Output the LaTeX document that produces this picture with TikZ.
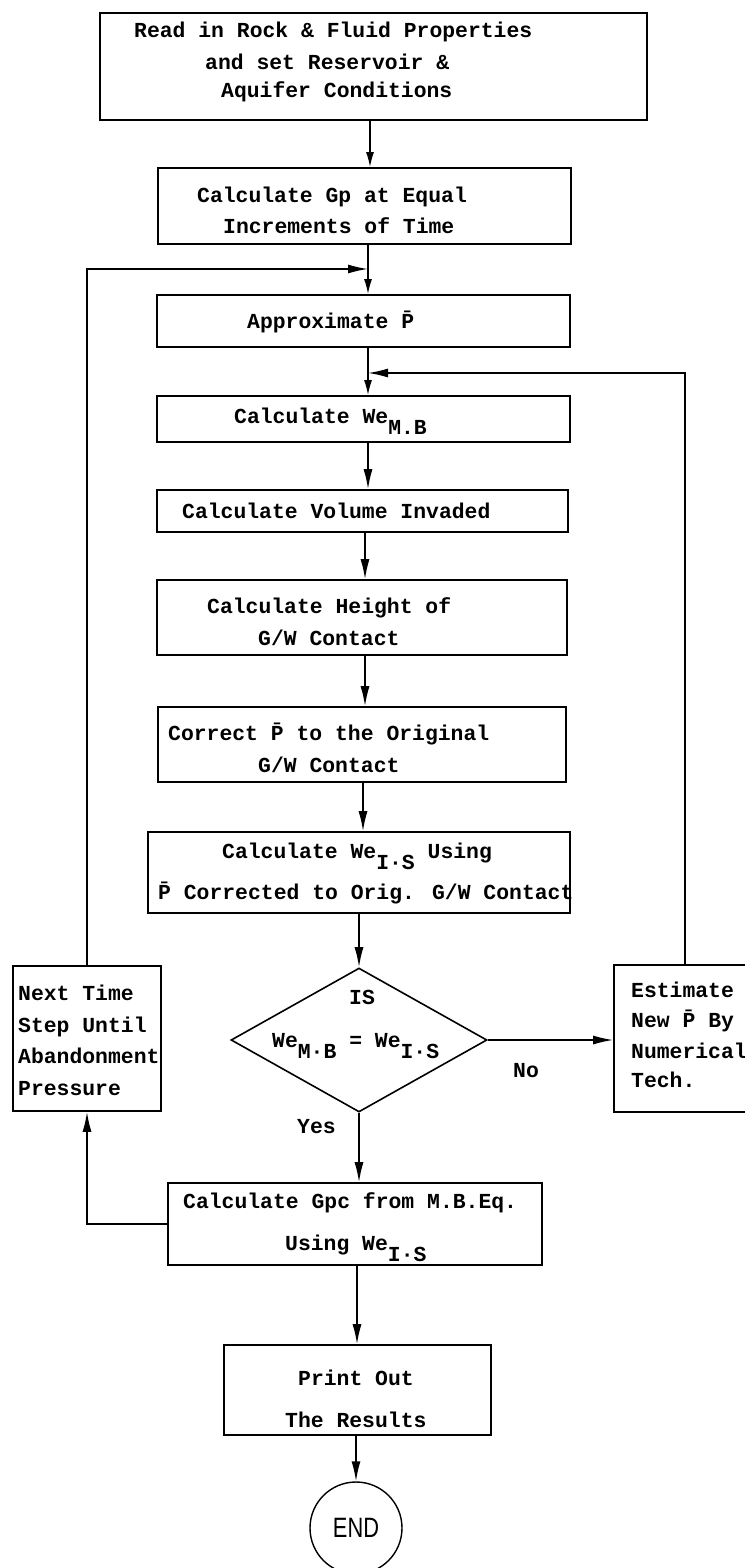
\documentclass[tikz,border=0pt]{standalone}
\usepackage{fontspec}
\usetikzlibrary{arrows.meta,shapes.geometric}
\newfontfamily\tmono{Liberation Mono}
\newfontfamily\endfont[FakeStretch=0.78]{Liberation Sans}
% typewriter-style lowered subscript
\newcommand\lowsub[1]{\raisebox{-11pt}{#1}}

\begin{document}
\begin{tikzpicture}[x=1pt,y=-1pt,
  box/.style={draw, rectangle, line width=1.6pt, inner sep=0pt},
  txt/.style={font=\tmono\bfseries\fontsize{21.4}{26}\selectfont, anchor=base west, inner sep=0pt},
  link/.style={line width=1.6pt},
  arr/.style={link, -{Latex[length=20pt,width=9pt]}},
  sarr/.style={link, -{Latex[length=15pt,width=8pt]}}
]
\fill[white] (0,0) rectangle (744,1568);
\useasboundingbox (0,0) rectangle (744,1568);

% column positions of the vertical connectors
\coordinate (k1) at (370,0);
\coordinate (k2) at (368,0);
\coordinate (k3) at (365,0);
\coordinate (k4) at (363,0);
\coordinate (k5) at (359,0);
\coordinate (k6) at (357,0);
\coordinate (k8) at (685,0);
% junctions where the loops rejoin the main flow
\coordinate (j1) at (368,269);
\coordinate (j2) at (368,373);

% process boxes
\node[box, minimum width=547pt, minimum height=107pt] (b1) at (373.5,66.5) {};
\node[box, minimum width=413pt, minimum height=76pt]  (b2) at (364.5,206) {};
\node[box, minimum width=413pt, minimum height=52pt]  (b3) at (363.5,321) {};
\node[box, minimum width=413pt, minimum height=46pt]  (b4) at (363.5,419) {};
\node[box, minimum width=411pt, minimum height=42pt]  (b5) at (362.5,511) {};
\node[box, minimum width=410pt, minimum height=75pt]  (b6) at (362,617.5) {};
\node[box, minimum width=408pt, minimum height=75pt]  (b7) at (362,744.5) {};
\node[box, minimum width=422pt, minimum height=81pt]  (b8) at (359,872.5) {};
\node[draw, diamond, line width=1.6pt, inner sep=0pt,
      minimum width=256pt, minimum height=144pt]      (d)  at (359,1040) {};
\node[box, minimum width=148pt, minimum height=145pt] (L)  at (87,1038.5) {};
\node[box, minimum width=156pt, minimum height=147pt] (R)  at (692,1038.5) {};
\node[box, minimum width=374pt, minimum height=82pt]  (G)  at (355,1224) {};
\node[box, minimum width=267pt, minimum height=90pt]  (P)  at (357.5,1390) {};
\node[draw, circle, line width=1.4pt, minimum size=92pt, inner sep=0pt,
      font=\endfont\fontsize{28}{28}\selectfont]       (e)  at (356,1528) {END};

% box texts
\node[txt] (t1a) at (134,38)  {Read in Rock \& Fluid Properties};
\node[txt] (t1b) at (205,70)  {and set Reservoir \&};
\node[txt] (t1c) at (221,98)  {Aquifer Conditions};
\node[txt] (t2a) at (197,202) {Calculate Gp at Equal};
\node[txt] (t2b) at (223,233) {Increments of Time};
\node[txt] (t3)  at (247,328) {Approximate \=P};
\node[txt] (t4)  at (234,423) {Calculate We\lowsub{M.B}};
\node[txt] (t5)  at (182,518) {Calculate Volume Invaded};
\node[txt] (t6a) at (207,613) {Calculate Height of};
\node[txt] (t6b) at (258,645) {G/W Contact};
\node[txt] (t7a) at (168,740) {Correct \=P to the Original};
\node[txt] (t7b) at (258,772) {G/W Contact};
\node[txt] (t8a) at (222,858) {Calculate We\lowsub{I·S} Using};
\node[txt] (t8b) at (158,899) {\=P Corrected to Orig. G/W Contact};
\node[txt] (tda) at (349,1004) {IS};
\node[txt] (tdb) at (272,1047) {We\lowsub{M·B} = We\lowsub{I·S}};
\node[txt] (tLa) at (18,1000) {Next Time};
\node[txt] (tLb) at (18,1032) {Step Until};
\node[txt] (tLc) at (18,1063) {Abandonment};
\node[txt] (tLd) at (18,1095) {Pressure};
\node[txt] (tRa) at (631,997)  {Estimate};
\node[txt] (tRb) at (631,1027) {New \=P By};
\node[txt] (tRc) at (631,1058) {Numerical};
\node[txt] (tRd) at (631,1087) {Tech.};
\node[txt] (tno)  at (513,1077) {No};
\node[txt] (tyes) at (297,1133) {Yes};
\node[txt] (tGa) at (183,1208) {Calculate Gpc from M.B.Eq.};
\node[txt] (tGb) at (285,1250) {Using We\lowsub{I·S}};
\node[txt] (tPa) at (298,1385) {Print Out};
\node[txt] (tPb) at (285,1427) {The Results};

% main flow
\draw[sarr] (b1.south -| k1) -- (b2.north -| k1);
\draw[sarr] (b2.south -| k2) -- (b3.north -| k2);
\draw[sarr] (b3.south -| k2) -- (b4.north -| k2);
\draw[arr]  (b4.south -| k2) -- (b5.north -| k2);
\draw[arr]  (b5.south -| k3) -- (b6.north -| k3);
\draw[arr]  (b6.south -| k3) -- (b7.north -| k3);
\draw[arr]  (b7.south -| k4) -- (b8.north -| k4);
\draw[arr]  (b8.south -| k5) -- (d.north);
\draw[arr]  (d.south) -- (G.north -| k5);
\draw[arr]  (G.south -| k6) -- (P.north -| k6);
\draw[arr]  (P.south -| e.north) -- (e.north);

% "No" branch and pressure re-estimate loop
\draw[arr] (d.east) -- (d.east -| R.west);
\draw[arr] (R.north -| k8) |- (j2);

% next time step loop
\draw[arr] (G.west) -| (L.south);
\draw[arr] (L.north) |- (j1);
\end{tikzpicture}
\end{document}
